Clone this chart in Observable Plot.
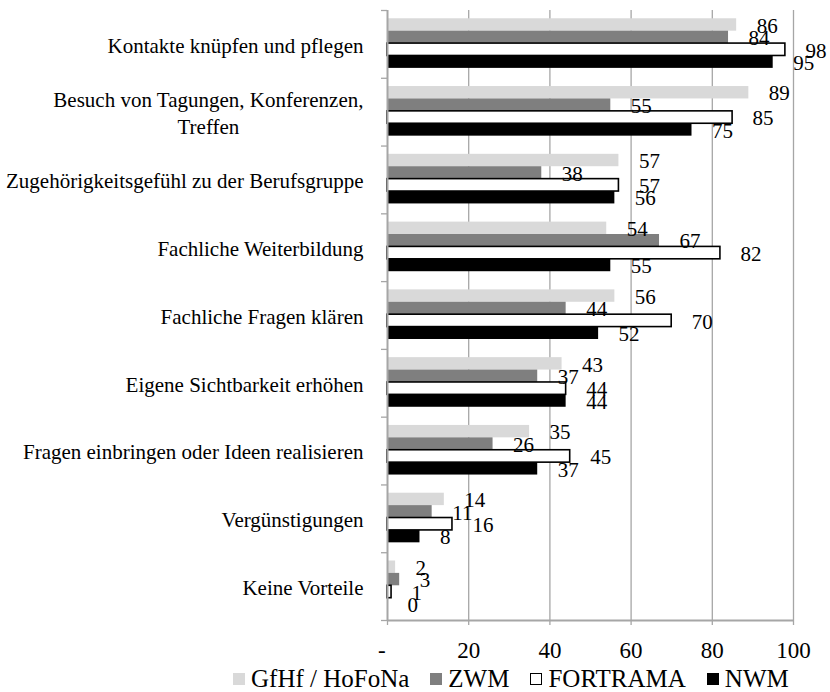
<!DOCTYPE html>
<html>
<head>
<meta charset="utf-8">
<script src="https://cdn.jsdelivr.net/npm/d3@7"></script>
<script src="https://cdn.jsdelivr.net/npm/@observablehq/plot@0.6"></script>
<style>
  body { margin: 0; background: #fff; font-family: "Liberation Serif", "Times New Roman", serif; }
  #legend { display: flex; align-items: center; height: 26px; margin-left: 233px; font-size: 25px; color: #000; }
  #legend .item { display: flex; align-items: center; margin-right: 21px; }
  #legend .sw { width: 12px; height: 12px; margin-right: 6px; box-sizing: border-box; }
</style>
</head>
<body>
<div id="chart"></div>
<div id="legend"></div>
<script>
// Reasons for membership, share of respondents (%) per network
const categories = [
  "Kontakte knüpfen und pflegen",
  "Besuch von Tagungen, Konferenzen,\nTreffen",
  "Zugehörigkeitsgefühl zu der Berufsgruppe",
  "Fachliche Weiterbildung",
  "Fachliche Fragen klären",
  "Eigene Sichtbarkeit erhöhen",
  "Fragen einbringen oder Ideen realisieren",
  "Vergünstigungen",
  "Keine Vorteile"
];
const seriesNames = ["GfHf / HoFoNa", "ZWM", "FORTRAMA", "NWM"];
const gfhf     = [86, 89, 57, 54, 56, 43, 35, 14, 2];
const zwm      = [84, 55, 38, 67, 44, 37, 26, 11, 3];
const fortrama = [98, 85, 57, 82, 70, 44, 45, 16, 1];
const nwm      = [95, 75, 56, 55, 52, 44, 37, 8, 0];
const xTicks   = [0, 20, 40, 60, 80, 100];

const seriesValues = [gfhf, zwm, fortrama, nwm];
const seriesFill   = ["#d9d9d9", "#7f7f7f", "#ffffff", "#000000"];
const seriesStroke = [null, null, "#000000", null];

// Each category occupies one unit on y; the four bars sit inside it
const groupTop = 0.122, barH = 0.183;
const rows = [];
categories.forEach((cat, i) => {
  seriesValues.forEach((vals, s) => {
    const y1 = i + groupTop + s * barH;
    rows.push({cat, i, s, value: vals[i], y1, y2: y1 + barH, ym: y1 + barH / 2});
  });
});

const grid = "#a6a6a6";
const font = "'Liberation Serif', 'Times New Roman', serif";

const plot = Plot.plot({
  width: 830,
  height: 666,
  marginLeft: 387,
  marginRight: 37,
  marginTop: 10,
  marginBottom: 46,
  style: {fontFamily: font, fontSize: "21px", background: "#fff", color: "#000"},
  x: {domain: [0, 100], label: null},
  y: {domain: [0, categories.length], reverse: true, axis: null},
  marks: [
    Plot.ruleX(xTicks.filter(d => d > 0), {stroke: grid, strokeWidth: 1.3}),
    ...seriesNames.map((name, s) =>
      Plot.rect(rows.filter(r => r.s === s), {
        x1: 0, x2: "value", y1: "y1", y2: "y2",
        fill: seriesFill[s],
        stroke: seriesStroke[s] ?? "none",
        strokeWidth: 1.6
      })
    ),
    Plot.ruleX([0], {stroke: grid, strokeWidth: 2}),
    Plot.ruleY([categories.length], {stroke: grid, strokeWidth: 2}),
    Plot.axisY({ticks: d3.range(categories.length + 1), tickSize: 6, tickFormat: () => "", stroke: grid, strokeWidth: 1.3, label: null}),
    Plot.axisX({
      ticks: xTicks, tickSize: 5, tickPadding: 16, stroke: grid, strokeWidth: 1.3, fill: "#000",
      fontSize: 23, label: null, tickFormat: d => d === 0 ? "-\u2002" : String(d)
    }),
    Plot.text(categories, {
      x: () => 0, y: (d, i) => i + 0.5, text: d => d,
      textAnchor: "end", dx: -24, fontSize: 21, lineHeight: 1.24, fill: "#000"
    }),
    Plot.text(rows, {
      x: "value", y: "ym", text: d => String(d.value),
      textAnchor: "start", dx: 20, dy: 1, fontSize: 21, fill: "#000"
    })
  ]
});

document.getElementById("chart").appendChild(plot);

// Centre the second line of wrapped category labels under the first line
plot.querySelectorAll("text").forEach(t => {
  const spans = t.querySelectorAll("tspan");
  if (spans.length > 1) {
    const w1 = spans[0].getComputedTextLength();
    for (let k = 1; k < spans.length; k++) {
      const wk = spans[k].getComputedTextLength();
      spans[k].setAttribute("x", -(w1 - wk) / 2);
    }
  }
});

// Legend
const legend = document.getElementById("legend");
seriesNames.forEach((name, s) => {
  const item = document.createElement("div");
  item.className = "item";
  const sw = document.createElement("div");
  sw.className = "sw";
  sw.style.background = seriesFill[s];
  if (seriesStroke[s]) sw.style.border = "1.5px solid " + seriesStroke[s];
  const label = document.createElement("span");
  label.textContent = name;
  item.appendChild(sw);
  item.appendChild(label);
  legend.appendChild(item);
});
</script>
</body>
</html>
